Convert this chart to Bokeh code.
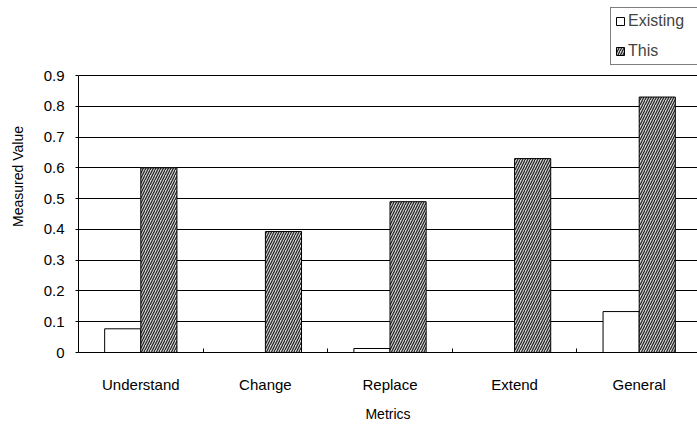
from bokeh.plotting import figure
from bokeh.models import Range1d, FixedTicker, CustomJSTickFormatter, Legend, LegendItem, ColumnDataSource
from bokeh.embed import file_html
from bokeh.resources import INLINE

categories = ["Understand", "Change", "Replace", "Extend", "General"]
existing = [0.077, 0.0, 0.013, 0.0, 0.133]
this = [0.60, 0.393, 0.49, 0.63, 0.83]
y_ticks = [0, 0.1, 0.2, 0.3, 0.4, 0.5, 0.6, 0.7, 0.8, 0.9]

FONT = "Liberation Sans"
centers = [i + 0.5 for i in range(len(categories))]
bar_w = 0.29
y_max = 0.9
y_view = y_max * 352 / 277  # leaves room above the plot for the legend

src_e = ColumnDataSource(dict(x=[c - bar_w / 2 for c in centers], top=existing))
src_t = ColumnDataSource(dict(x=[c + bar_w / 2 for c in centers], top=this))

p = figure(width=697, height=428, output_backend="svg", toolbar_location=None,
           x_range=Range1d(0, 4.968), y_range=Range1d(0, y_view),
           min_border_left=78, min_border_right=0, min_border_top=0, min_border_bottom=76)
p.outline_line_color = None
p.background_fill_color = "white"

r_e = p.vbar(x="x", top="top", width=bar_w, bottom=0, source=src_e,
             fill_color="white", line_color="black", line_width=1)
r_t = p.vbar(x="x", top="top", width=bar_w, bottom=0, source=src_t,
             fill_color="#d4d4d4", line_color="black", line_width=1,
             hatch_pattern="/", hatch_scale=5, hatch_weight=1.2, hatch_color="#202020")

p.xgrid.visible = False
p.ygrid.ticker = FixedTicker(ticks=y_ticks)
p.ygrid.grid_line_color = "black"
p.ygrid.grid_line_width = 1

p.yaxis.ticker = FixedTicker(ticks=y_ticks)
p.yaxis.bounds = (0, y_max)
p.yaxis.formatter = CustomJSTickFormatter(code="return tick == 0 ? '0' : tick.toFixed(1);")
p.yaxis.axis_line_color = "black"
p.yaxis.major_tick_out = 3
p.yaxis.major_tick_in = 0
p.yaxis.minor_tick_line_color = None
p.yaxis.major_label_text_font = FONT
p.yaxis.major_label_text_font_size = "15px"
p.yaxis.major_label_text_color = "black"
p.yaxis.major_label_standoff = 11
p.yaxis.axis_label = "Measured Value"
p.yaxis.axis_label_text_font = FONT
p.yaxis.axis_label_text_font_size = "14px"
p.yaxis.axis_label_text_font_style = "normal"
p.yaxis.axis_label_text_color = "black"
p.yaxis.axis_label_standoff = 15

p.xaxis.ticker = FixedTicker(ticks=centers, minor_ticks=[1, 2, 3, 4])
p.xaxis.major_label_overrides = {c: n for c, n in zip(centers, categories)}
p.xaxis.major_tick_line_color = None
p.xaxis.major_tick_out = 0
p.xaxis.major_tick_in = 0
p.xaxis.minor_tick_in = 4
p.xaxis.minor_tick_out = 0
p.xaxis.minor_tick_line_color = "black"
p.xaxis.axis_line_color = "black"
p.xaxis.major_label_text_font = FONT
p.xaxis.major_label_text_font_size = "15px"
p.xaxis.major_label_text_color = "black"
p.xaxis.major_label_standoff = 23
p.xaxis.axis_label = "Metrics"
p.xaxis.axis_label_text_font = FONT
p.xaxis.axis_label_text_font_size = "14px"
p.xaxis.axis_label_text_font_style = "normal"
p.xaxis.axis_label_text_color = "black"
p.xaxis.axis_label_standoff = 10

legend = Legend(items=[LegendItem(label="Existing", renderers=[r_e]),
                       LegendItem(label="This", renderers=[r_t])],
                location=(532, 287))
legend.glyph_width = 10
legend.glyph_height = 10
legend.label_text_font = FONT
legend.label_text_font_size = "16px"
legend.label_height = 16
legend.label_width = 80
legend.label_standoff = 3
legend.spacing = 12
legend.padding = 4
legend.margin = 0
legend.border_line_color = "black"
legend.border_line_width = 1
legend.background_fill_alpha = 1
p.add_layout(legend, "center")

open("out.html", "w").write(file_html(p, INLINE))
